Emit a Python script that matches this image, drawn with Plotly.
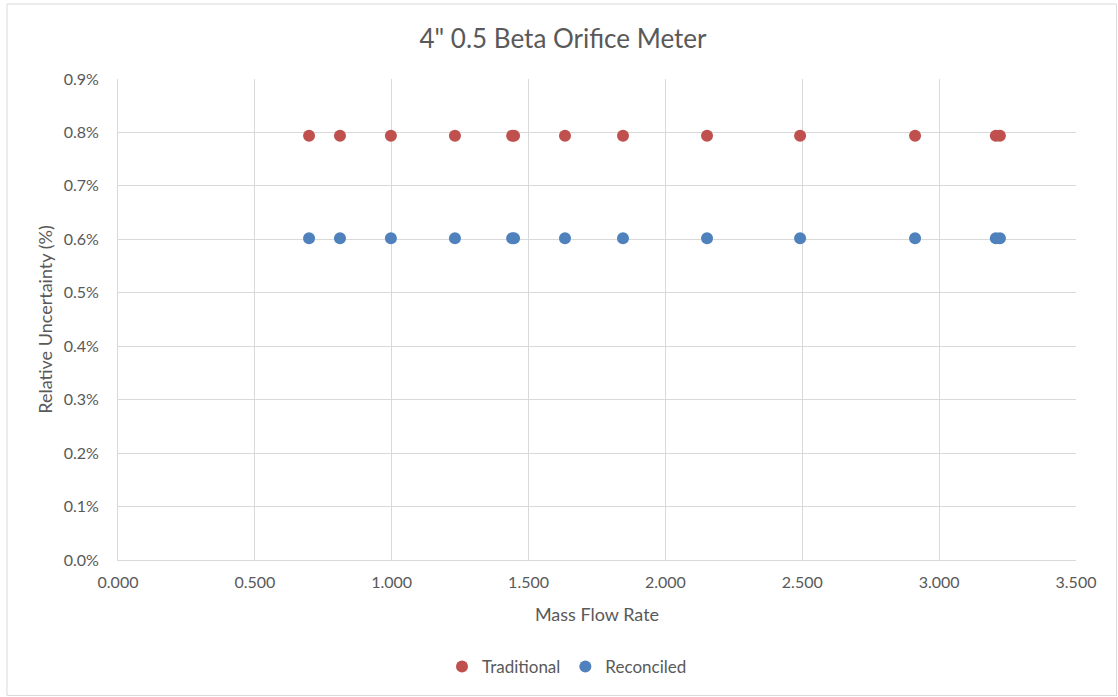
import plotly.graph_objects as go

mass_flow = [0.698, 0.811, 0.997, 1.231, 1.440, 1.447, 1.633, 1.845, 2.152, 2.492, 2.912, 3.207, 3.222]
traditional = [0.00794] * len(mass_flow)
reconciled = [0.00602] * len(mass_flow)

W, H = 1118, 697
L, R, T, B = 118, 42, 79, 137
pw, ph = W - L - R, H - T - B

def px(x):
    return (x - L) / pw

def py(y):
    return (H - B - y) / ph

font = "Lato, 'Open Sans', sans-serif"
grey = "#595959"
grid = "#d9d9d9"

fig = go.Figure()
fig.add_trace(go.Scatter(x=mass_flow, y=traditional, mode="markers", name="Traditional",
                         marker=dict(color="#C0504D", size=12)))
fig.add_trace(go.Scatter(x=mass_flow, y=reconciled, mode="markers", name="Reconciled",
                         marker=dict(color="#4F81BD", size=12)))

fig.update_layout(
    width=W, height=H,
    margin=dict(l=L, r=R, t=T, b=B),
    paper_bgcolor="white", plot_bgcolor="white",
    font=dict(family=font, color=grey, size=16),
    title=dict(text="4\" 0.5 Beta Orifice Meter", x=(563 - L) / pw, xref="paper", xanchor="center",
               y=1 - 39 / H, yanchor="middle",
               font=dict(size=26, color=grey, family=font)),
    xaxis=dict(range=[0, 3.5], dtick=0.5, tick0=0, tickformat=".3f", showgrid=True, gridcolor=grid,
               showline=True, linecolor=grid, zeroline=False, ticks="", ticklabelstandoff=8,
               tickfont=dict(size=16, color=grey),
               title=dict(text="Mass Flow Rate", font=dict(size=18, color=grey), standoff=18)),
    yaxis=dict(range=[0, 0.009], dtick=0.001, tick0=0, tickformat=".1%", showgrid=True, gridcolor=grid,
               showline=True, linecolor=grid, zeroline=False, ticks="", ticklabelstandoff=15,
               tickfont=dict(size=16, color=grey),
               title=dict(text="Relative Uncertainty (%)", font=dict(size=18, color=grey), standoff=6)),
    legend=dict(orientation="h", x=(567 - L) / pw, xanchor="center", y=py(667), yanchor="middle",
                font=dict(size=17, color=grey), itemwidth=30, tracegroupgap=0),
    showlegend=True,
    shapes=[dict(type="rect", xref="paper", yref="paper", x0=px(7), x1=px(1116.5), y0=py(4), y1=py(695.5),
                 line=dict(color="#d9d9d9", width=1), fillcolor="rgba(0,0,0,0)", layer="below")],
)

fig.write_html("out.html")
